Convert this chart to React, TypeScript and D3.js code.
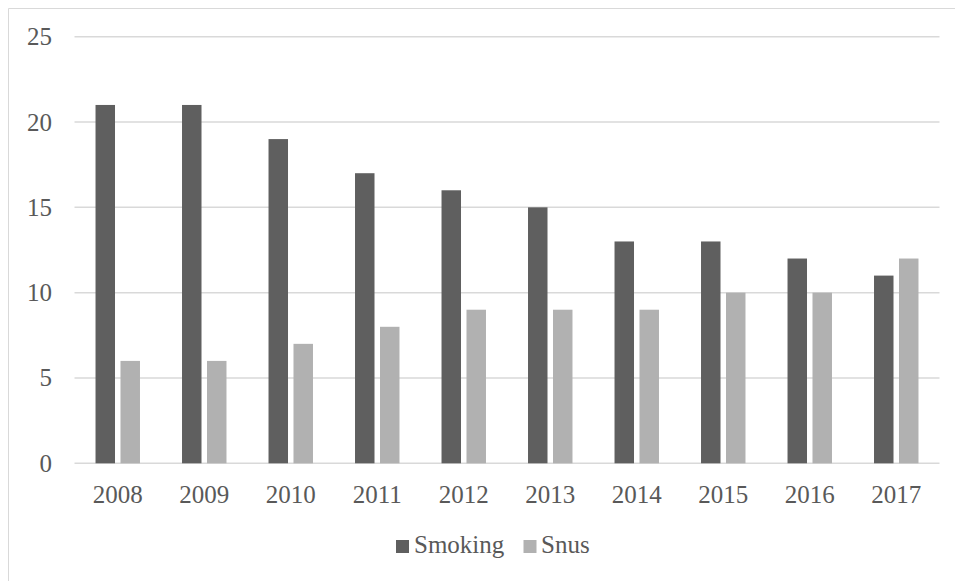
import React from "react";
import * as d3 from "d3";

const years = ["2008", "2009", "2010", "2011", "2012", "2013", "2014", "2015", "2016", "2017"];
const smoking = [21, 21, 19, 17, 16, 15, 13, 13, 12, 11];
const snus = [6, 6, 7, 8, 9, 9, 9, 10, 10, 12];
const yTicks = [0, 5, 10, 15, 20, 25];
const seriesNames = ["Smoking", "Snus"];
const seriesColors = ["#5f5f5f", "#b1b1b1"];

const W = 955;
const H = 581;
const plotLeft = 74.5;
const plotRight = 939.5;
const plotTop = 36.7;
const plotBottom = 463.3;
const font = "'Liberation Serif', 'Times New Roman', serif";
const textColor = "#595959";

export default function App() {
  const x = d3.scaleBand<string>().domain(years).range([plotLeft, plotRight]).paddingInner(0.486).paddingOuter(0.243);
  const xSub = d3.scaleBand<string>().domain(seriesNames).range([0, x.bandwidth()]).paddingInner(0.22);
  const y = d3.scaleLinear().domain([0, 25]).range([plotBottom, plotTop]);
  const values = [smoking, snus];

  return (
    <svg
      width={W}
      height={H}
      style={{ position: "absolute", left: 0, top: 0, background: "#fff" }}
      fontFamily={font}
    >
      <rect x={0} y={0} width={W} height={H} fill="#fff" />
      {/* chart frame */}
      <line x1={8.5} x2={8.5} y1={8.5} y2={H} stroke="#d9d9d9" strokeWidth={1} />
      <line x1={8.5} x2={W} y1={8.5} y2={8.5} stroke="#d9d9d9" strokeWidth={1} />

      {/* gridlines and y labels */}
      {yTicks.map((t) => (
        <g key={t}>
          <line x1={plotLeft} x2={plotRight} y1={y(t)} y2={y(t)} stroke="#d9d9d9" strokeWidth={1.5} />
          <text x={52} y={y(t)} dy="0.34em" textAnchor="end" fontSize={25} fill={textColor}>
            {t}
          </text>
        </g>
      ))}

      {/* bars */}
      {years.map((yr, i) => (
        <g key={yr} transform={`translate(${x(yr)},0)`}>
          {seriesNames.map((s, k) => (
            <rect
              key={s}
              x={xSub(s)}
              y={y(values[k][i])}
              width={xSub.bandwidth()}
              height={y(0) - y(values[k][i])}
              fill={seriesColors[k]}
            />
          ))}
          <text
            x={x.bandwidth() / 2}
            y={503}
            textAnchor="middle"
            fontSize={25}
            fill={textColor}
          >
            {yr}
          </text>
        </g>
      ))}

      {/* legend */}
      <g>
        <rect x={396} y={540} width={13} height={13} fill={seriesColors[0]} />
        <text x={414} y={553} fontSize={25} fill={textColor}>
          {seriesNames[0]}
        </text>
        <rect x={523.5} y={540} width={13} height={13} fill={seriesColors[1]} />
        <text x={541} y={553} fontSize={25} fill={textColor}>
          {seriesNames[1]}
        </text>
      </g>
    </svg>
  );
}
